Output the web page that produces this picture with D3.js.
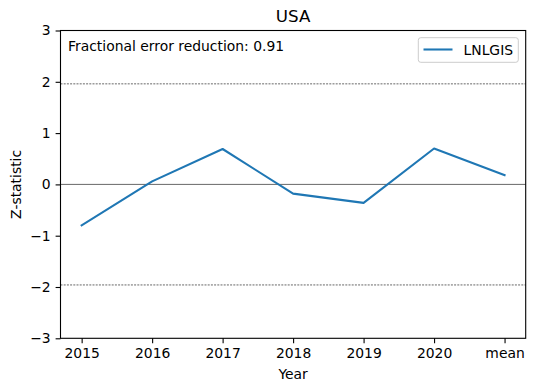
<!DOCTYPE html>
<html><head><meta charset="utf-8">
<script src="https://cdn.jsdelivr.net/npm/d3@7"></script>
<style>body{margin:0;background:#fff}svg{display:block;font-family:"DejaVu Sans",sans-serif}</style>
</head><body>
<svg id="c" width="534" height="391"></svg>
<script>
const categories = ["2015","2016","2017","2018","2019","2020","mean"];
const zValues = [-0.80, 0.06, 0.69, -0.18, -0.36, 0.70, 0.18];
const yTicks = [-3,-2,-1,0,1,2,3];
const refLines = [1.96, -1.96];
const seriesName = "LNLGIS";
const title = "USA";
const annotation = "Fractional error reduction: 0.91";

const svg = d3.select("#c");
const L = 60.5, R = 525.7, T = 30.5, B = 338.3;
const x = d3.scaleLinear().domain([-0.3, categories.length - 1 + 0.3]).range([L, R]);
const y = d3.scaleLinear().domain([-3, 3]).range([B, T]);

// reference lines
svg.append("line").attr("x1", L).attr("x2", R).attr("y1", y(0)).attr("y2", y(0))
  .attr("stroke", "#000").attr("stroke-width", 0.6);
refLines.forEach(v => svg.append("line").attr("x1", L).attr("x2", R)
  .attr("y1", y(v)).attr("y2", y(v)).attr("stroke", "#000").attr("stroke-width", 0.6)
  .attr("stroke-dasharray", "2,1.2"));

// data line
const line = d3.line().x((d, i) => x(i)).y(d => y(d));
svg.append("path").datum(zValues).attr("d", line).attr("fill", "none")
  .attr("stroke", "#1f77b4").attr("stroke-width", 2.08).attr("stroke-linejoin", "round")
  .attr("stroke-linecap", "square");

// axes
const xAxis = d3.axisBottom(x).tickValues(d3.range(categories.length))
  .tickFormat(i => categories[i]).tickSize(4.9).tickPadding(4.9);
const gx = svg.append("g").attr("transform", `translate(0,${B})`).call(xAxis);
const yAxis = d3.axisLeft(y).tickValues(yTicks).tickFormat(d3.format("d")).tickSize(4.9).tickPadding(4.9);
const gy = svg.append("g").attr("transform", `translate(${L},0)`).call(yAxis);
[gx, gy].forEach(g => {
  g.select(".domain").remove();
  g.selectAll(".tick line").attr("stroke", "#000").attr("stroke-width", 1.1);
  g.selectAll("text").attr("font-size", "13.9px").attr("fill", "#000")
    .attr("font-family", "DejaVu Sans");
});

// frame
svg.append("rect").attr("x", L).attr("y", T).attr("width", R - L).attr("height", B - T)
  .attr("fill", "none").attr("stroke", "#000").attr("stroke-width", 1.1);

// title
svg.append("text").attr("x", (L + R) / 2).attr("y", 22).attr("text-anchor", "middle")
  .attr("font-size", "16.7px").text(title);
// labels
svg.append("text").attr("x", (L + R) / 2).attr("y", 379).attr("text-anchor", "middle")
  .attr("font-size", "13.9px").text("Year");
svg.append("text").attr("transform", `translate(21,${(T + B) / 2}) rotate(-90)`)
  .attr("text-anchor", "middle").attr("font-size", "13.9px").text("Z-statistic");

// annotation
svg.append("text").attr("x", 68).attr("y", 51).attr("font-size", "13.9px").text(annotation);

// legend
const lg = svg.append("g");
lg.append("rect").attr("x", 418.3).attr("y", 37.7).attr("width", 100).attr("height", 24.6)
  .attr("rx", 2.5).attr("fill", "#fff").attr("fill-opacity", 0.8)
  .attr("stroke", "#cccccc").attr("stroke-width", 1);
lg.append("line").attr("x1", 423.5).attr("x2", 452.5).attr("y1", 49.5).attr("y2", 49.5)
  .attr("stroke", "#1f77b4").attr("stroke-width", 2.08);
lg.append("text").attr("x", 463.5).attr("y", 54.5).attr("font-size", "13.9px").text(seriesName);
</script>
</body></html>
